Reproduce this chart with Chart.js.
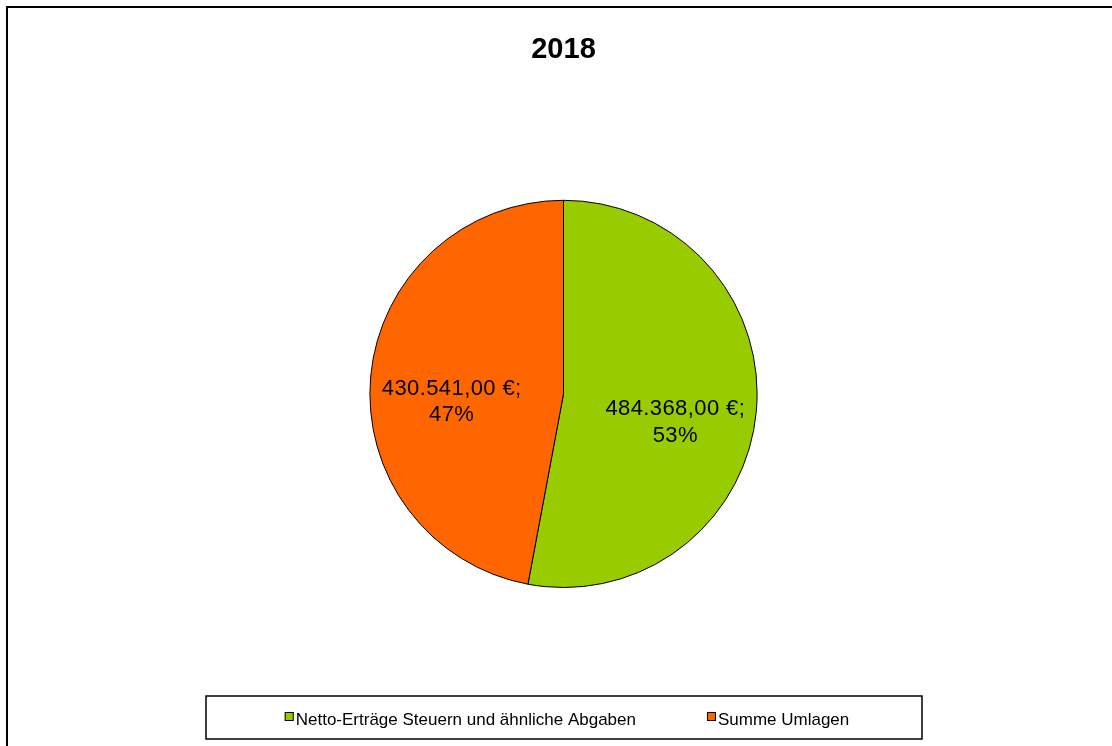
<!DOCTYPE html>
<html>
<head>
<meta charset="utf-8">
<script src="https://cdn.jsdelivr.net/npm/chart.js@4.4.0/dist/chart.umd.min.js"></script>
<style>
  html, body { margin: 0; padding: 0; background: #fff; overflow: hidden; }
  #wrap { width: 1112px; height: 746px; }
</style>
</head>
<body>
<div id="wrap"><canvas id="js-canvas-pie" width="1112" height="746"></canvas></div>
<script>
const chartTitle = '2018';
const categories = ['Netto-Erträge Steuern und ähnliche Abgaben', 'Summe Umlagen'];
const amounts = [484368.00, 430541.00];
const sliceColors = ['#99CC00', '#FF6600'];

const FONT = '"Liberation Sans", Arial, sans-serif';

// outer frame of the chart object (only top/left edges fall inside the window)
const framePlugin = {
  id: 'frame',
  beforeDraw (chart) {
    const ctx = chart.ctx;
    ctx.save();
    ctx.strokeStyle = '#000';
    ctx.lineWidth = 2;
    ctx.strokeRect(7, 7, chart.width + 20, chart.height + 20);
    ctx.restore();
  }
};

// value + percent labels inside slices
const sliceLabelPlugin = {
  id: 'sliceLabels',
  afterDatasetsDraw (chart) {
    const ctx = chart.ctx;
    const meta = chart.getDatasetMeta(0);
    const values = chart.data.datasets[0].data;
    const total = values.reduce((a, b) => a + b, 0);
    ctx.save();
    ctx.font = '22px ' + FONT;
    ctx.letterSpacing = '0.4px';
    ctx.fillStyle = '#000';
    ctx.textAlign = 'center';
    ctx.textBaseline = 'middle';
    meta.data.forEach((arc, i) => {
      const p = arc.getProps(['x', 'y', 'startAngle', 'endAngle', 'outerRadius'], true);
      const mid = (p.startAngle + p.endAngle) / 2;
      const r = p.outerRadius * 0.58;
      const x = p.x + Math.cos(mid) * r;
      const y = p.y + Math.sin(mid) * r + 18;
      const line1 = values[i].toLocaleString('de-DE', { minimumFractionDigits: 2, maximumFractionDigits: 2 }) + ' \u20AC;';
      const line2 = Math.round(values[i] / total * 100) + '%';
      ctx.fillText(line1, x, y - 13);
      ctx.fillText(line2, x, y + 13.5);
    });
    ctx.restore();
  }
};

// framed legend below the pie
const boxLegendPlugin = {
  id: 'boxLegend',
  afterDraw (chart) {
    const ctx = chart.ctx;
    const labels = chart.data.labels;
    const colors = chart.data.datasets[0].backgroundColor;
    const cx = 564;
    const boxW = 716, boxTop = 696, boxH = 43;
    ctx.save();
    ctx.strokeStyle = '#000';
    ctx.lineWidth = 1.5;
    ctx.strokeRect(cx - boxW / 2, boxTop, boxW, boxH);

    ctx.font = '17px ' + FONT;
    ctx.textBaseline = 'alphabetic';
    ctx.textAlign = 'left';
    const sq = 9, sqGap = 2, itemGap = 71;
    const widths = labels.map(l => sq + sqGap + ctx.measureText(l).width);
    const total = widths.reduce((a, b) => a + b, 0) + itemGap * (labels.length - 1);
    let x = cx - total / 2 + 3;
    const baseline = 725;
    labels.forEach((l, i) => {
      ctx.fillStyle = colors[i];
      ctx.fillRect(x, baseline - 13, sq, sq);
      ctx.lineWidth = 1;
      ctx.strokeStyle = '#000';
      ctx.strokeRect(x + 0.5, baseline - 12.5, sq - 1, sq - 1);
      ctx.fillStyle = '#000';
      ctx.fillText(l, x + sq + sqGap, baseline);
      x += widths[i] + itemGap;
    });
    ctx.restore();
  }
};

new Chart(document.getElementById('js-canvas-pie'), {
  type: 'pie',
  data: {
    labels: categories,
    datasets: [{
      data: amounts,
      backgroundColor: sliceColors,
      borderColor: '#000',
      borderWidth: 1,
      hoverOffset: 0
    }]
  },
  options: {
    responsive: false,
    animation: false,
    devicePixelRatio: 1,
    layout: { padding: { top: 0, bottom: 158, left: 15, right: 0 } },
    plugins: {
      legend: { display: false },
      tooltip: { enabled: false },
      title: {
        display: true,
        text: chartTitle,
        color: '#000',
        font: { family: FONT, size: 29, weight: 'bold' },
        padding: { top: 33, bottom: 132 }
      }
    }
  },
  plugins: [framePlugin, sliceLabelPlugin, boxLegendPlugin]
});
</script>
</body>
</html>
